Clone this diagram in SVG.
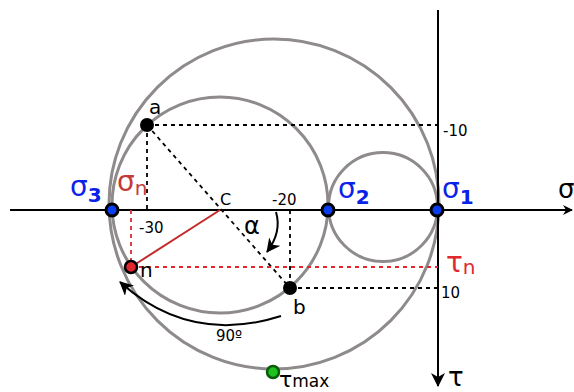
<svg xmlns="http://www.w3.org/2000/svg" width="574" height="392" viewBox="0 0 574 392">
<style>
.circ{fill:none;stroke:#8f8a8c;stroke-width:3}
.axis{stroke:#000;stroke-width:2;fill:none}
.dot{stroke:#000;stroke-width:1.8;stroke-dasharray:4,4;fill:none}
.rdot{stroke:#e0282e;stroke-width:1.8;stroke-dasharray:4,4;fill:none}
.t{font-family:"DejaVu Sans",sans-serif;fill:#000}
.sig{font-family:"DejaVu Sans",sans-serif;fill:#0a22e8;font-size:28px}
.sub{font-weight:bold;font-size:20px}
.red{fill:#e0282e}
</style>
<defs>
<marker id="ar" markerWidth="10" markerHeight="10" refX="9" refY="5" orient="auto" markerUnits="userSpaceOnUse"><path d="M0,0 L10,5 L0,10 L3,5 Z" fill="#000"/></marker>
<marker id="ar2" markerWidth="14" markerHeight="14" refX="13" refY="7" orient="auto" markerUnits="userSpaceOnUse"><path d="M0,0 L14,7 L0,14 L4,7 Z" fill="#000"/></marker>
</defs>
<g id="circles">
<circle class="circ" cx="274" cy="204" r="165"/>
<circle class="circ" cx="220" cy="205" r="108"/>
<circle class="circ" cx="383" cy="207" r="54.5"/>
</g>
<g id="connectors">
<line class="axis" x1="10" y1="210" x2="572" y2="210" marker-end="url(#ar)"/>
<line class="axis" x1="438" y1="10" x2="438" y2="386" marker-end="url(#ar2)"/>
<line class="dot" x1="147" y1="125" x2="438" y2="125"/>
<line class="dot" x1="147" y1="125" x2="147" y2="210"/>
<line class="dot" x1="147" y1="125" x2="290" y2="288"/>
<line class="dot" x1="290" y1="210" x2="290" y2="288"/>
<line class="dot" x1="290" y1="288" x2="438" y2="288"/>
<line class="rdot" x1="131" y1="267" x2="438" y2="267"/>
<line class="rdot" x1="131" y1="210" x2="131" y2="267"/>
<line x1="131" y1="267" x2="220" y2="210" stroke="#c42a2a" stroke-width="2"/>
<path d="M276,212 Q282,232 267,252" class="axis" marker-end="url(#ar2)"/>
<path d="M281,316 Q190,345 120,282" class="axis" marker-end="url(#ar2)"/>
</g>
<g id="sigma3"><circle cx="112" cy="210" r="6" fill="#0a3cf0" stroke="#000" stroke-width="3"/><text class="sig" x="70" y="196">σ<tspan class="sub" dy="6">3</tspan></text></g>
<g id="sigma2"><circle cx="328" cy="210" r="6" fill="#0a3cf0" stroke="#000" stroke-width="3"/><text class="sig" x="338" y="198">σ<tspan class="sub" dy="6">2</tspan></text></g>
<g id="sigma1"><circle cx="437" cy="210" r="6" fill="#0a3cf0" stroke="#000" stroke-width="3"/><text class="sig" x="442" y="198">σ<tspan class="sub" dy="6">1</tspan></text></g>
<g id="a"><circle cx="147" cy="125" r="7" fill="#000"/><text class="t" x="149" y="114" font-size="20">a</text></g>
<g id="b"><circle cx="290" cy="288" r="7" fill="#000"/><text class="t" x="293" y="314" font-size="20">b</text></g>
<g id="n"><circle cx="131" cy="267" r="6" fill="#e0282e" stroke="#000" stroke-width="2.5"/><text class="t" x="140" y="277" font-size="20">n</text></g>
<g id="C"><text class="t" x="220" y="205" font-size="16">C</text></g>
<g id="taumax"><circle cx="273" cy="372" r="6" fill="#1fc21f" stroke="#0a5a0a" stroke-width="2.5"/><text class="t" x="279" y="387" font-size="22">τ<tspan font-size="17">max</tspan></text></g>
<g id="labels">
<text class="t" x="117" y="191" font-size="28" fill="#c43a3a" style="fill:#c43a3a">σ<tspan font-size="20" dy="4">n</tspan></text>
<text class="t red" x="446" y="272" font-size="28">τ<tspan font-size="20" dy="2">n</tspan></text>
<text class="t" x="443" y="136" font-size="15">-10</text>
<text class="t" x="139" y="233" font-size="15">-30</text>
<text class="t" x="272" y="205" font-size="15">-20</text>
<text class="t" x="441" y="298" font-size="15">10</text>
<text class="t" x="244" y="234" font-size="24">α</text>
<text class="t" x="216" y="341" font-size="15">90º</text>
<text class="t" x="558" y="198" font-size="26">σ</text>
<text class="t" x="448" y="386" font-size="26">τ</text>
</g>
</svg>
